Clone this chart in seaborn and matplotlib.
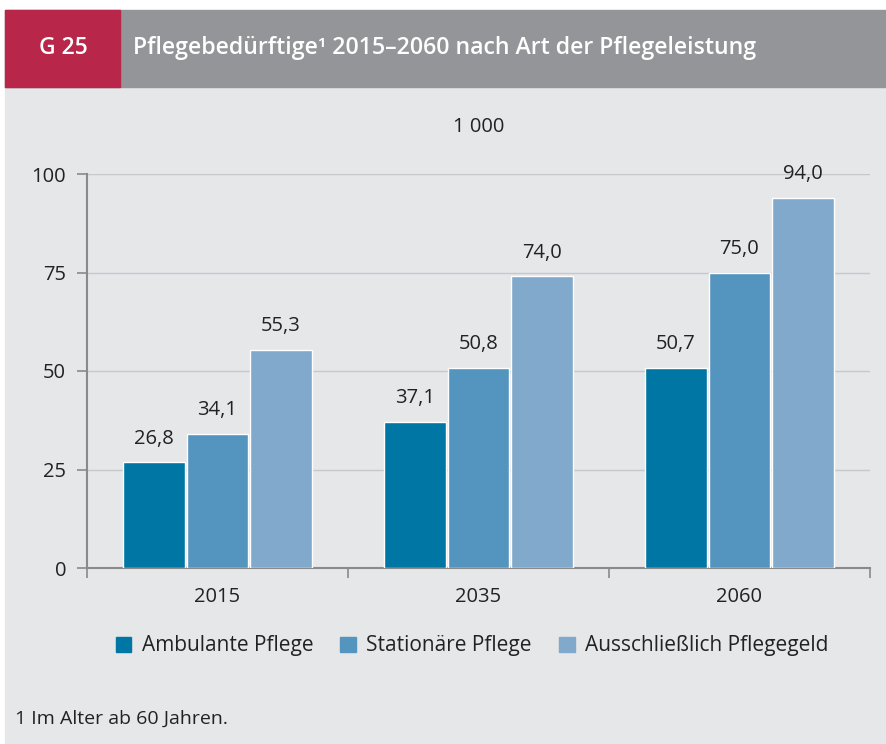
import pandas as pd
import matplotlib.pyplot as plt
import matplotlib.patches as mpatches
import seaborn as sns

# Data (in 1 000)
years = ["2015", "2035", "2060"]
arten = ["Ambulante Pflege", "Stationäre Pflege", "Ausschließlich Pflegegeld"]
ambulant = [26.8, 37.1, 50.7]
stationaer = [34.1, 50.8, 75.0]
pflegegeld = [55.3, 74.0, 94.0]
colors = ["#0076a4", "#5395bf", "#81a9cb"]

df = pd.DataFrame({
    "Jahr": years * 3,
    "Art": [arten[0]] * 3 + [arten[1]] * 3 + [arten[2]] * 3,
    "Wert": ambulant + stationaer + pflegegeld,
})

sns.set_style("white")
plt.rcParams["font.family"] = ["Open Sans", "DejaVu Sans"]
plt.rcParams["text.color"] = "#222222"

bg = "#e6e7e9"
fig = plt.figure(figsize=(8.86, 7.44), dpi=100)
fig.patch.set_facecolor("white")
W, H = 886, 744

# background panel and header band
fig.patches.append(mpatches.Rectangle((5 / W, 0), 1, 657 / H, transform=fig.transFigure,
                                      color=bg, zorder=0))
fig.patches.append(mpatches.Rectangle((5 / W, (H - 87) / H), 1, 77 / H, transform=fig.transFigure,
                                      color="#939598", zorder=0))
fig.patches.append(mpatches.Rectangle((5 / W, (H - 87) / H), 115 / W, 77 / H,
                                      transform=fig.transFigure, color="#b8264a", zorder=1))
fig.text(63 / W, (H - 48) / H, "G 25", color="white", fontsize=16.5, fontweight="semibold",
         ha="center", va="center")
fig.text(133 / W, (H - 48) / H, "Pflegebedürftige¹ 2015–2060 nach Art der Pflegeleistung",
         color="white", fontsize=16.7, fontweight="semibold", ha="left", va="center")

ax = fig.add_axes([87 / W, (H - 568) / H, 783 / W, 394 / H])
ax.set_zorder(2)
ax.set_facecolor(bg)

sns.barplot(data=df, x="Jahr", y="Wert", hue="Art", palette=colors, saturation=1,
            width=0.73, gap=0.03, ax=ax, zorder=3)

for cont in ax.containers:
    ax.bar_label(cont, labels=[f"{b.get_height():.1f}".replace(".", ",") for b in cont],
                 padding=10, fontsize=14.5, color="#222222")

ax.set_ylim(0, 100)
ax.set_xlim(-0.5, 2.5)
ax.set_yticks([0, 25, 50, 75, 100])
ax.yaxis.grid(True, color="#c6c8cb", linewidth=1)
ax.set_axisbelow(True)
ax.tick_params(axis="y", left=True, labelsize=14.5, length=7, width=1.2, color="#8a8a8a",
               pad=8, labelcolor="#222222")
ax.tick_params(axis="x", which="major", length=0, labelsize=14.5, pad=14, labelcolor="#222222")
ax.set_xticks([-0.5, 0.5, 1.5, 2.5], minor=True)
ax.tick_params(axis="x", which="minor", bottom=True, length=7, width=1.2, color="#8a8a8a")
ax.set_xlabel("")
ax.set_ylabel("")
for s in ["top", "right"]:
    ax.spines[s].set_visible(False)
for s in ["left", "bottom"]:
    ax.spines[s].set_color("#8a8a8a")
    ax.spines[s].set_linewidth(1.5)

ax.text(0.5, 1.12, "1 000", transform=ax.transAxes, ha="center", va="center", fontsize=14.5)

ax.get_legend().remove()
handles = [mpatches.Patch(color=c, label=a) for c, a in zip(colors, arten)]
fig.legend(handles=handles, loc="center", bbox_to_anchor=(472 / W, (H - 646) / H), ncol=3,
           frameon=False, fontsize=15, handlelength=0.75, handleheight=0.75,
           handletextpad=0.5, columnspacing=1.3)

fig.text(15 / W, (H - 719) / H, "1 Im Alter ab 60 Jahren.", fontsize=14, ha="left", va="center")

plt.savefig("out.png", dpi=100, facecolor=fig.get_facecolor())
